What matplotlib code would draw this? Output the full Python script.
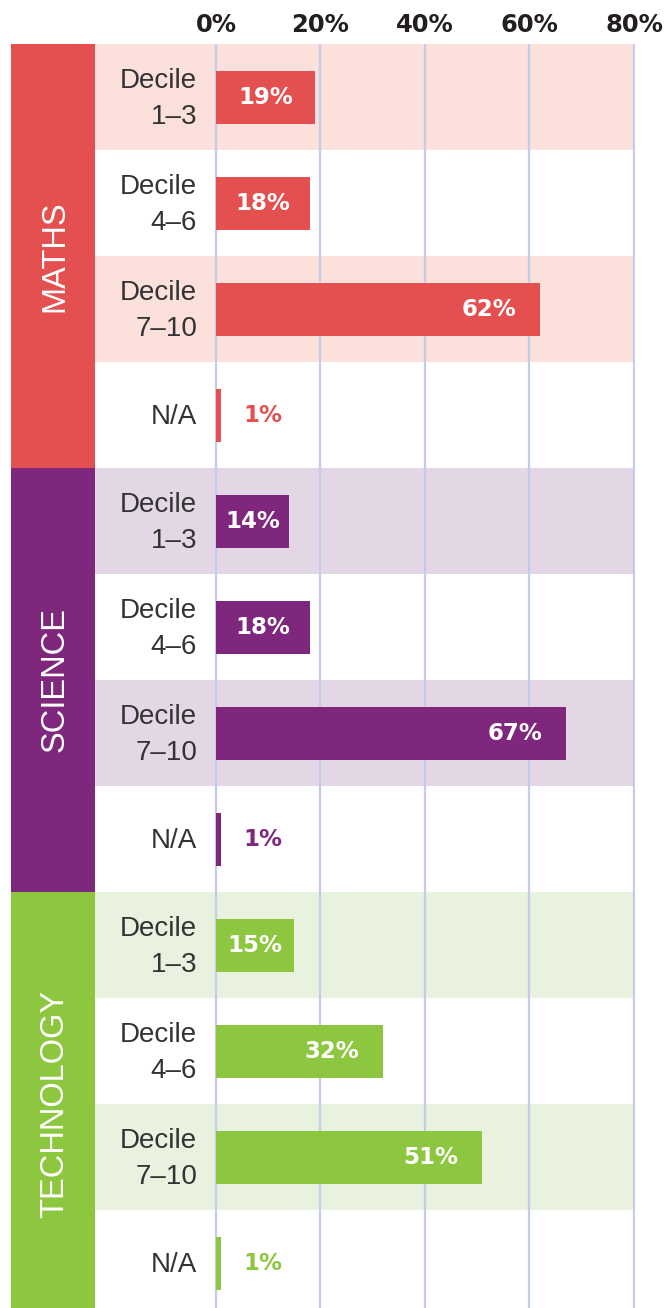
import matplotlib.pyplot as plt
import numpy as np

groups = ["MATHS", "SCIENCE", "TECHNOLOGY"]
categories = ["Decile\n1–3", "Decile\n4–6", "Decile\n7–10", "N/A"]
maths = [19, 18, 62, 1]
science = [14, 18, 67, 1]
technology = [15, 32, 51, 1]
tick_values = [0, 20, 40, 60, 80]
tick_labels = ["0%", "20%", "40%", "60%", "80%"]

colors = ["#E45050", "#7E277C", "#8DC63F"]
shades = ["#FBE0DB", "#E3D7E6", "#E9F2DF"]
grid_color = "#C3CCE8"
text_color = "#231F20"

W, H = 665, 1308
fig = plt.figure(figsize=(W / 100, H / 100), dpi=100)

# pixel layout
top_px = 44
row_px = 106
n_rows = 12
left_px, zero_px, right_px = 95, 216, 635
px_per_pct = (634 - zero_px) / 80.0
bottom_px = top_px + row_px * n_rows
ax_bottom = (H - bottom_px) / H
ax_height = row_px * n_rows / H

ax = fig.add_axes([left_px / W, ax_bottom, (right_px - left_px) / W, ax_height])
ax.set_xlim(-(zero_px - left_px) / px_per_pct, (right_px - zero_px) / px_per_pct)
ax.set_ylim(n_rows, 0)

ax_band = fig.add_axes([11 / W, ax_bottom, (left_px - 11) / W, ax_height])
ax_band.set_xlim(0, 1)
ax_band.set_ylim(n_rows, 0)
ax_band.axis("off")

label_font = dict(family="DejaVu Sans", fontweight="bold", fontsize=16.5)

all_values = [maths, science, technology]
for g, (name, vals) in enumerate(zip(groups, all_values)):
    start = g * 4
    ax_band.barh(start + 2, 1, height=4, left=0, color=colors[g], edgecolor="none")
    ax_band.text(0.52, start + 2, name, rotation=90, ha="center", va="center",
                 color="white", fontsize=23.5, family="Liberation Sans")
    for i, v in enumerate(vals):
        row = start + i
        if i % 2 == 0:
            ax.axhspan(row, row + 1, color=shades[g], lw=0, zorder=0)
        ax.barh(row + 0.5, v, height=0.5, left=0, color=colors[g], zorder=3)
        ax.text(-3.6, row + 0.52, categories[i], ha="right", va="center",
                fontsize=20, linespacing=1.5, color="#333333",
                family="Liberation Sans")
        label = f"{v}%"
        if v < 5:
            ax.text(v + 4.3, row + 0.5, label, ha="left", va="center",
                    color=colors[g], **label_font)
        elif v < 25:
            ax.text(v / 2, row + 0.5, label, ha="center", va="center",
                    color="white", zorder=4, **label_font)
        else:
            ax.text(v - 4.6, row + 0.5, label, ha="right", va="center",
                    color="white", zorder=4, **label_font)

for x in tick_values:
    ax.axvline(x, color=grid_color, lw=1.6, zorder=1)

ax.xaxis.tick_top()
ax.set_xticks(tick_values)
ax.set_xticklabels(tick_labels, fontsize=17.5, family="DejaVu Sans", fontweight="bold", color=text_color)
ax.tick_params(axis="x", length=0, pad=5)
ax.set_yticks([])
for s in ax.spines.values():
    s.set_visible(False)

fig.savefig("out.png", dpi=100)
